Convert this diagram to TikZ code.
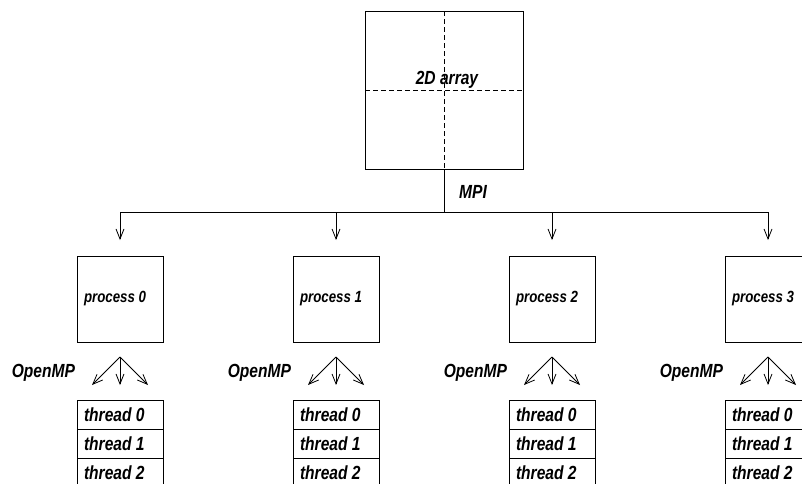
\documentclass[tikz,border=0pt]{standalone}
\usepackage{fontspec}
\setmainfont{Liberation Sans}[FakeStretch=0.82]
\usetikzlibrary{arrows.meta, positioning}

\begin{document}
\begin{tikzpicture}[
    x=1pt, y=-1pt,
    every node/.style={outer sep=0pt},
    lbl/.style={inner sep=0pt, font=\bfseries\itshape\fontsize{19}{22}\selectfont},
    proc/.style={rectangle, draw, line width=0.8pt, minimum width=86pt, minimum height=86pt, inner xsep=7pt, text width=72pt, align=flush left, font=\bfseries\itshape\fontsize{16.2}{19}\selectfont},
    thr/.style={rectangle, draw, line width=0.8pt, minimum height=29pt, inner ysep=0pt, inner xsep=7pt, text width=72pt, align=flush left, font=\bfseries\itshape\fontsize{19}{22}\selectfont},
    line/.style={draw, line width=0.8pt},
    arr/.style={line, -{Straight Barb[length=10pt, width=8pt]}},
    grid/.style={line, dash pattern=on 5pt off 3pt}
]
\useasboundingbox (0,0) rectangle (802,483);

% The array and its split
\node [rectangle, draw, line width=0.8pt, minimum width=158pt, minimum height=158pt] (array) at (444,90) {};
\path [grid] (array.north) -- (array.south);
\path [grid] (array.west) -- (array.east);
\node [lbl] (arraytxt) at ([xshift=3pt, yshift=10pt]array.center) {2D array};

\coordinate [below=43pt of array] (split);
\node [lbl] (mpi) at ([xshift=29pt, yshift=20pt]split) {MPI};

% Processes
\node [proc] (p0) at (120,299) {process 0};
\node [proc, right=130pt of p0] (p1) {process 1};
\node [proc, right=130pt of p1] (p2) {process 2};
\node [proc, right=130pt of p2] (p3) {process 3};

% Threads
\node [thr, below=58pt of p0] (t00) {thread 0};
\node [thr, below=0pt of t00] (t01) {thread 1};
\node [thr, below=0pt of t01] (t02) {thread 2};

\node [thr, below=58pt of p1] (t10) {thread 0};
\node [thr, below=0pt of t10] (t11) {thread 1};
\node [thr, below=0pt of t11] (t12) {thread 2};

\node [thr, below=58pt of p2] (t20) {thread 0};
\node [thr, below=0pt of t20] (t21) {thread 1};
\node [thr, below=0pt of t21] (t22) {thread 2};

\node [thr, below=58pt of p3] (t30) {thread 0};
\node [thr, below=0pt of t30] (t31) {thread 1};
\node [thr, below=0pt of t31] (t32) {thread 2};

% OpenMP fans
\coordinate [below=15pt of p0] (f0);
\coordinate [below=15pt of p1] (f1);
\coordinate [below=15pt of p2] (f2);
\coordinate [below=15pt of p3] (f3);
\path (f0) ++(-28pt,-28pt) coordinate (f0l) ++(28pt,0pt) coordinate (f0m) ++(28pt,0pt) coordinate (f0r);
\path (f1) ++(-28pt,-28pt) coordinate (f1l) ++(28pt,0pt) coordinate (f1m) ++(28pt,0pt) coordinate (f1r);
\path (f2) ++(-28pt,-28pt) coordinate (f2l) ++(28pt,0pt) coordinate (f2m) ++(28pt,0pt) coordinate (f2r);
\path (f3) ++(-28pt,-28pt) coordinate (f3l) ++(28pt,0pt) coordinate (f3m) ++(28pt,0pt) coordinate (f3r);

\node [lbl, anchor=east] (omp0) at ([xshift=-45pt, yshift=-16pt]f0) {OpenMP};
\node [lbl, anchor=east] (omp1) at ([xshift=-45pt, yshift=-16pt]f1) {OpenMP};
\node [lbl, anchor=east] (omp2) at ([xshift=-45pt, yshift=-16pt]f2) {OpenMP};
\node [lbl, anchor=east] (omp3) at ([xshift=-45pt, yshift=-16pt]f3) {OpenMP};

% Edges
\path [line] (array) -- (split);
\path [arr, shorten >=16pt] (split) -| (p0);
\path [arr, shorten >=16pt] (split) -| (p1);
\path [arr, shorten >=16pt] (split) -| (p2);
\path [arr, shorten >=16pt] (split) -| (p3);

\path [arr] (f0) -- (f0l);
\path [arr] (f0) -- (f0m);
\path [arr] (f0) -- (f0r);
\path [arr] (f1) -- (f1l);
\path [arr] (f1) -- (f1m);
\path [arr] (f1) -- (f1r);
\path [arr] (f2) -- (f2l);
\path [arr] (f2) -- (f2m);
\path [arr] (f2) -- (f2r);
\path [arr] (f3) -- (f3l);
\path [arr] (f3) -- (f3m);
\path [arr] (f3) -- (f3r);
\end{tikzpicture}
\end{document}
